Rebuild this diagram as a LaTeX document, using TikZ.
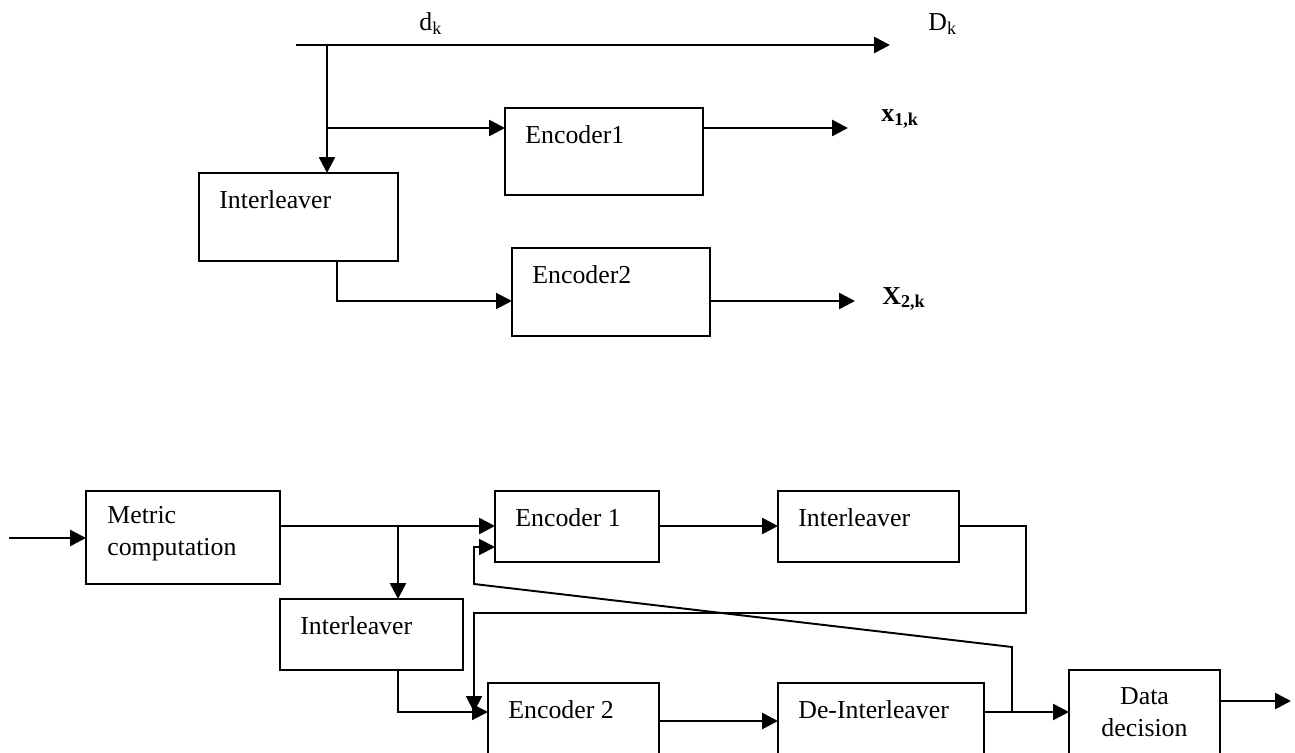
\documentclass[tikz,border=0pt]{standalone}
\usepackage{fontspec}
\setmainfont{Liberation Serif}
\usetikzlibrary{arrows.meta}

\tikzset{
  blk/.style={draw, line width=1.2pt, inner sep=0pt, outer sep=0pt},
  txt/.style={inner sep=0pt},
  arr/.style={line width=1.5pt, -{Triangle[length=9pt, width=9pt]}},
  thinarr/.style={line width=1.1pt, -{Triangle[length=9pt, width=9pt]}},
}

\begin{document}
\begin{tikzpicture}[x=0.02cm, y=-0.02cm, font=\fontsize{14.7}{18}\selectfont]
\useasboundingbox (0,0) rectangle (1295,753);

\newcommand{\blk}[6]{%
  \node[blk, minimum width={(#4-#2)*0.02cm}, minimum height={(#5-#3)*0.02cm}]
    (#1) at ({(#2+#4)/2},{(#3+#5)/2}) {};
  \node[txt, anchor=west] (#1t) at ([shift={(20,27)}]#1.north west) {#6};
}

% upper figure: encoder
\blk{enca}{505}{108}{703}{195}{Encoder1}
\blk{inta}{199}{173}{398}{261}{Interleaver}
\blk{encb}{512}{248}{710}{336}{Encoder2}

\coordinate (din) at (296,45);
\coordinate (dout) at (890,45);
\coordinate (ja) at (327,45);
\coordinate (jb) at (327,128);
\coordinate (xa) at (848,128);
\coordinate (jc) at (337,301);
\coordinate (xb) at (855,301);

\draw[arr] (din) -- (dout);
\draw[arr] (ja) -- (ja |- inta.north);
\draw[arr] (jb) -- (jb -| enca.west);
\draw[arr] (xa -| enca.east) -- (xa);
\draw[thinarr] (jc |- inta.south) -- (jc) -- (jc -| encb.west);
\draw[arr] (xb -| encb.east) -- (xb);

\node[txt, anchor=base west] (dk) at (419,31) {d\textsubscript{k}};
\node[txt, anchor=base west] (Dk) at (928,31) {D\textsubscript{k}};
\node[txt, anchor=base west] (x1k) at (881,122) {\textbf{x\textsubscript{1,k}}};
\node[txt, anchor=base west] (x2k) at (882,304) {\textbf{X\textsubscript{2,k}}};

% lower figure: decoder
\node[blk, minimum width={194*0.02cm}, minimum height={93*0.02cm}] (met) at (183,537.5) {};
\node[txt, anchor=west, align=left] (mett) at ([shift={(21,43)}]met.north west) {Metric\\computation};
\blk{enc1}{495}{491}{659}{562}{Encoder 1}
\blk{int1}{280}{599}{463}{670}{Interleaver}
\blk{int2}{778}{491}{959}{562}{Interleaver}
\blk{enc2}{488}{683}{659}{758}{Encoder 2}
\blk{deint}{778}{683}{984}{758}{De-Interleaver}
\node[blk, minimum width={151*0.02cm}, minimum height={88*0.02cm}] (dec) at (1144.5,714) {};
\node[txt, align=center] (dect) at (1144.5,712) {Data\\decision};

\coordinate (in) at (9,538);
\coordinate (j1) at (398,526);
\coordinate (j2) at (398,712);
\coordinate (f1) at (1026,526);
\coordinate (f2) at (1026,613);
\coordinate (f3) at (474,613);
\coordinate (f4) at (474,712);
\coordinate (j4) at (1012,712);
\coordinate (g1) at (1012,647);
\coordinate (g2) at (474,584);
\coordinate (g3) at (474,547);
\coordinate (e1) at (659,526);
\coordinate (e2) at (659,721);
\coordinate (out) at (1291,701);

\draw[arr] (in) -- (in -| met.west);
\draw[arr] (j1 -| met.east) -- (j1 -| enc1.west);
\draw[arr] (j1) -- (j1 |- int1.north);
\draw[arr] (e1) -- (e1 -| int2.west);
\draw[thinarr] (int2.east |- f1) -- (f1) -- (f2) -- (f3) -- (f4);
\draw[thinarr] (int1.south -| j2) -- (j2) -- (j2 -| enc2.west);
\draw[arr] (e2) -- (e2 -| deint.west);
\draw[arr] (j4 -| deint.east) -- (j4 -| dec.west);
\draw[thinarr] (j4) -- (g1) -- (g2) -- (g3) -- (g3 -| enc1.west);
\draw[arr] (dec.east |- out) -- (out);
\end{tikzpicture}
\end{document}
